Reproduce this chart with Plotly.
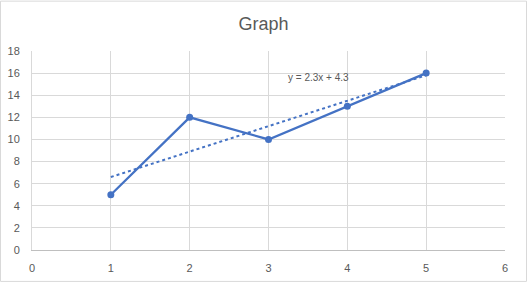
import numpy as np
import plotly.graph_objects as go

x_vals = [1, 2, 3, 4, 5]
y_vals = [5, 12, 10, 13, 16]
x_ticks = [0, 1, 2, 3, 4, 5, 6]
y_ticks = [0, 2, 4, 6, 8, 10, 12, 14, 16, 18]

slope, intercept = np.polyfit(x_vals, y_vals, 1)
trend_x = [min(x_vals), max(x_vals)]
trend_y = [slope * v + intercept for v in trend_x]

blue = "#4472C4"
grey_text = "#595959"
font_family = "Liberation Sans, Arial, sans-serif"

fig = go.Figure()
fig.add_trace(go.Scatter(x=trend_x, y=trend_y, mode="lines",
                         line=dict(color=blue, width=2, dash="dot"),
                         hoverinfo="skip", showlegend=False))
fig.add_trace(go.Scatter(x=x_vals, y=y_vals, mode="lines+markers",
                         line=dict(color=blue, width=2.25),
                         marker=dict(color=blue, size=7),
                         showlegend=False))

fig.add_annotation(x=3.64, y=15.6, xref="x", yref="y",
                   text=f"y = {slope:.1f}x + {intercept:.1f}",
                   showarrow=False,
                   font=dict(size=10, color=grey_text, family=font_family))

# chart-area border
fig.add_shape(type="rect", xref="paper", yref="paper",
              x0=-31.5 / 473, x1=1 + 21.5 / 473,
              y0=-31.5 / 199.5, y1=1 + 50 / 199.5,
              line=dict(color="#D9D9D9", width=1), layer="below")

fig.update_layout(
    width=527, height=282,
    margin=dict(l=32, r=22, t=50.5, b=31.5, autoexpand=False),
    paper_bgcolor="white", plot_bgcolor="white",
    title=dict(text="Graph", x=0.5, xanchor="center", y=1 - 24 / 282, yanchor="middle",
               font=dict(size=18, color=grey_text, family=font_family)),
    font=dict(family=font_family, color=grey_text, size=11),
)
fig.update_xaxes(range=[0, 6], tickvals=x_ticks, showgrid=True, gridcolor="#D9D9D9",
                 gridwidth=1, zeroline=False, showline=True, linecolor="#BFBFBF",
                 linewidth=1, ticks="", ticklabelstandoff=8, automargin=False,
                 tickfont=dict(size=11, color=grey_text))
fig.update_yaxes(range=[0, 18], tickvals=y_ticks, showgrid=True, gridcolor="#D9D9D9",
                 gridwidth=1, zeroline=False, showline=True, linecolor="#D9D9D9",
                 linewidth=1, ticks="", ticklabelstandoff=9, automargin=False,
                 tickfont=dict(size=11, color=grey_text))

fig.write_html("out.html")
